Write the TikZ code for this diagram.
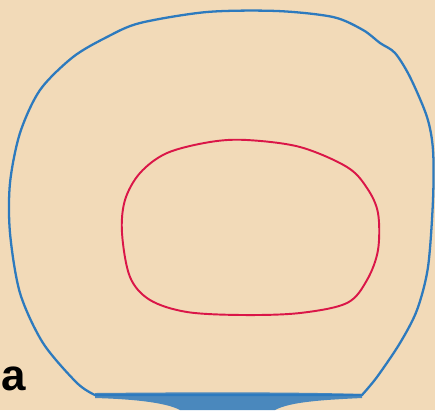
\documentclass[tikz,border=0pt]{standalone}
\usepackage{fontspec}
\setsansfont{Liberation Sans}
\definecolor{paper}{RGB}{242,218,184}
\definecolor{inkblue}{RGB}{45,122,190}
\definecolor{inkred}{RGB}{218,22,72}
\begin{document}
\begin{tikzpicture}[x=0.02cm, y=-0.02cm,
  outer/.style={draw=inkblue, line width=1.3pt, line join=round},
  inner/.style={draw=inkred, line width=1.1pt, line join=round},
  tagtext/.style={font=\sffamily\bfseries\fontsize{25}{25}\selectfont, inner sep=0pt}]
  \fill[paper] (0,0) rectangle (435,410);
  \useasboundingbox (0,0) rectangle (435,410);
  % blue outline, straight along the bottom
  \draw[outer] plot[smooth, tension=0.5] coordinates {
    (362,395) (377,377) (400,343) (417,310) (428,267) (433,200)
    (433,150) (427,117) (410,77) (395,53) (380,43) (363,30) (333,17)
    (277,11) (207,12) (140,23) (107,37) (73,57) (40,90) (20,133)
    (10,183) (10,233) (20,293) (43,343) (77,383) (95,395)}
    -- cycle;
  % smudged bottom edge
  \fill[inkblue, opacity=0.85] (95,393) .. controls (200,392) and (300,392) .. (362,394)
    -- (362,398) .. controls (320,400) and (290,402) .. (275,410)
    -- (180,410) .. controls (165,402) and (130,399) .. (95,398) -- cycle;
  % red outline
  \draw[inner] plot[smooth cycle, tension=0.55] coordinates {
    (210,142) (247,140) (300,147) (347,167) (367,188) (378,213)
    (378,250) (367,280) (347,303) (300,313) (243,315) (187,312)
    (150,300) (130,277) (122,233) (125,200) (140,173) (167,153)};
  \node[tagtext, anchor=base west] (tag) at (1,390) {a};
\end{tikzpicture}
\end{document}
